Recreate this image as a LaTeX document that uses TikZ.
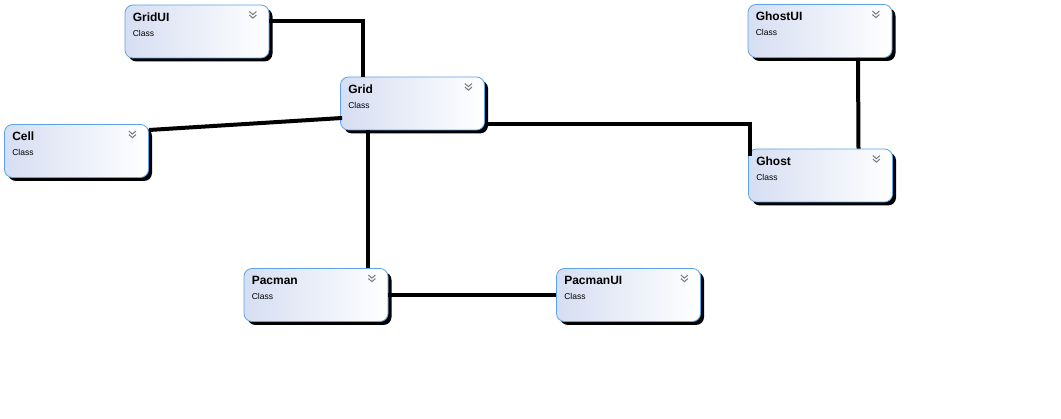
\documentclass[tikz,border=0pt]{standalone}
\usepackage{fontspec}
\setmainfont{Liberation Sans}
\usetikzlibrary{shadows}
\definecolor{boxleft}{RGB}{214,222,242}
\definecolor{boxline}{RGB}{92,164,232}
\definecolor{chevgray}{RGB}{120,120,120}
\newcommand{\chevron}[1]{%
  \draw[chev] ([xshift=-20pt,yshift=-7pt]#1.north east) -- ++(3.5,3) -- ++(3.5,-3);
  \draw[chev] ([xshift=-20pt,yshift=-10.5pt]#1.north east) -- ++(3.5,3) -- ++(3.5,-3);}
\begin{document}
\begin{tikzpicture}[x=1pt,y=-1pt,
    classbox/.style={rectangle, rounded corners=8pt, draw=boxline, line width=0.8pt,
      left color=boxleft, right color=white, minimum width=144pt, minimum height=53pt,
      inner sep=0pt, drop shadow={shadow xshift=3.5pt, shadow yshift=-3.5pt, fill=black, opacity=1}},
    title/.style={anchor=north west, inner sep=0pt, font=\bfseries\fontsize{12}{13}\selectfont},
    kind/.style={anchor=north west, inner sep=0pt, font=\fontsize{8.5}{9}\selectfont},
    chev/.style={draw=chevgray, line width=1pt},
    link/.style={line width=4pt}]
  \useasboundingbox (0,0) rectangle (1061,419);
  % Boxes
  \node[classbox] (gridui) at (197,31.5) {};
  \node[classbox] (grid) at (412.5,103.5) {};
  \node[classbox] (cell) at (76.5,151) {};
  \node[classbox] (ghostui) at (820,31) {};
  \node[classbox] (ghost) at (820.5,175.5) {};
  \node[classbox] (pacman) at (316,295) {};
  \node[classbox] (pacmanui) at (628.5,295) {};
  % Labels
  \foreach \n/\t in {gridui/GridUI, grid/Grid, cell/Cell, ghostui/GhostUI,
      ghost/Ghost, pacman/Pacman, pacmanui/PacmanUI} {
    \node[title] (\n-t) at ([xshift=8pt,yshift=-8pt]\n.north west) {\t};
    \node[kind] (\n-k) at ([xshift=8pt,yshift=-25.5pt]\n.north west) {Class};
    \chevron{\n}
  }
  % Links
  \draw[link] ([yshift=10.5pt]gridui.east) -| ([xshift=-50pt]grid.north);
  \draw[link] ([yshift=21pt]cell.east) -- ([yshift=-14.5pt,xshift=2pt]grid.west);
  \draw[link] ([yshift=-20.5pt]grid.east) -| ([xshift=2pt,yshift=-7pt]ghost.north west);
  \draw[link] ([xshift=38pt]ghostui.south) -- ([xshift=38pt]ghost.north);
  \draw[link] ([xshift=-44.5pt]grid.south) -- ([xshift=-44.5pt]grid.south |- pacman.north);
  \draw[link] (pacman.east) -- (pacmanui.west);
\end{tikzpicture}
\end{document}
